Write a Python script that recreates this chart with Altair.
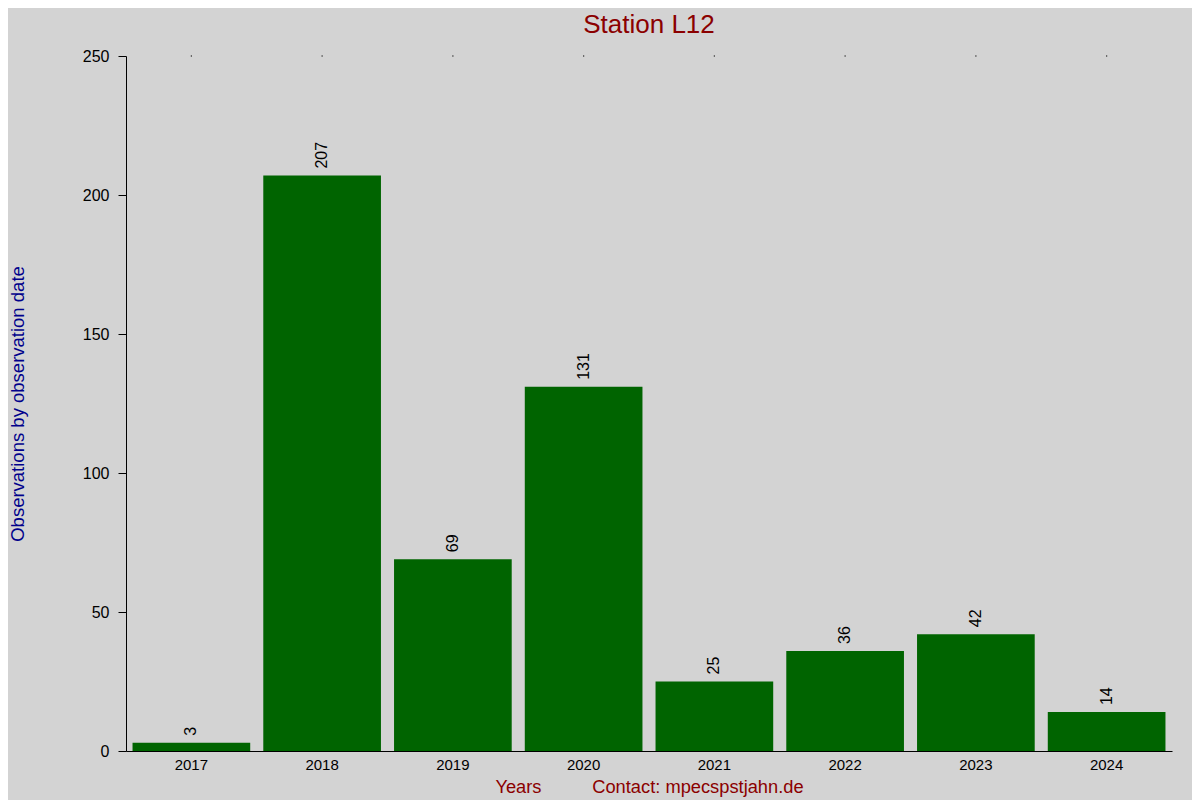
import altair as alt
import pandas as pd

years = ["2017", "2018", "2019", "2020", "2021", "2022", "2023", "2024"]
counts = [3, 207, 69, 131, 25, 36, 42, 14]
y_ticks = [0, 50, 100, 150, 200, 250]

title_text = "Station L12"
x_title = "Years" + "\u00a0" * 10 + "Contact: mpecspstjahn.de"
y_title = "Observations by observation date"

df = pd.DataFrame({"year": years, "count": counts})

FONT = "Liberation Sans"
RED = "#8b0000"
BLUE = "#00008b"
GREEN = "#006400"

W, H = 1046, 695

xscale = alt.Scale(paddingInner=0.1, paddingOuter=0.05)
yscale = alt.Scale(domain=[0, 250], nice=False)

x_enc = alt.X(
    "year:N", sort=years, scale=xscale,
    axis=alt.Axis(
        title=x_title, labelAngle=0, ticks=False, domain=True,
        domainColor="black", domainWidth=1,
        labelFont=FONT, labelFontSize=15, labelColor="black", labelPadding=6,
        titleFont=FONT, titleFontSize=18.3, titleColor=RED, titleFontWeight="normal",
        titleX=W / 2, titleY=41, titleAlign="center", titleBaseline="alphabetic",
    ),
)
y_enc = alt.Y(
    "count:Q", scale=yscale,
    axis=alt.Axis(
        title=y_title, values=y_ticks, grid=False, tickSize=8, tickColor="black",
        domainColor="black", labelFont=FONT, labelFontSize=16, labelColor="black",
        labelPadding=9,
        titleFont=FONT, titleFontSize=18.5, titleColor=BLUE, titleFontWeight="normal",
        titleAngle=270, titleX=-103, titleY=H / 2, titleAlign="center",
        titleBaseline="alphabetic",
    ),
)

bars = alt.Chart(df).mark_bar(color=GREEN).encode(x=x_enc, y=y_enc)

labels = alt.Chart(df).mark_text(
    angle=270, align="left", baseline="middle", dx=7,
    font=FONT, fontSize=16, color="black",
).encode(x=alt.X("year:N", sort=years), y=alt.Y("count:Q"), text="count:Q")

dots = alt.Chart(df).mark_square(size=1.5, color="black", opacity=1).encode(
    x=alt.X("year:N", sort=years), y=alt.datum(250)
)

chart = alt.layer(bars, labels, dots).properties(
    width=W, height=H,
    title=alt.Title(
        title_text, font=FONT, fontSize=26, color=RED, fontWeight="normal",
        anchor="middle", frame="group", baseline="alphabetic", offset=-11,
    ),
    autosize=alt.AutoSizeParams(type="none"),
    padding={"left": 118, "top": 48, "right": 20, "bottom": 50},
    background="#d3d3d3",
).configure_view(stroke=None)

chart.save("out.html", embed_options={"renderer": "svg", "actions": False})
